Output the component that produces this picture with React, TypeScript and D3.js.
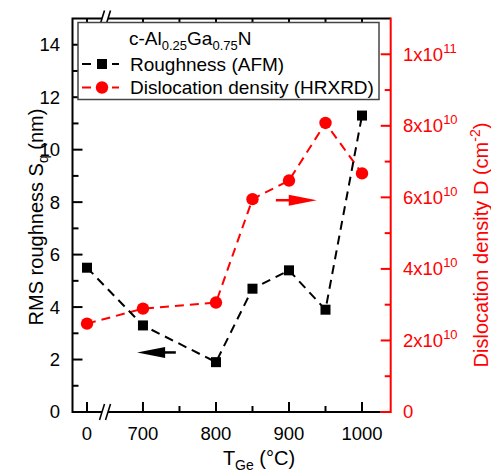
import React, { useEffect, useRef } from 'react';
import * as d3 from 'd3';

// growth temperature (0 = reference sample, shown left of the axis break)
const temps = [0, 700, 800, 850, 900, 950, 1000];
const roughness = [5.5, 3.3, 1.9, 4.7, 5.4, 3.9, 11.3];
const dislocation = [2.47e10, 2.89e10, 3.06e10, 5.95e10, 6.47e10, 8.08e10, 6.67e10];

const xMajor = [0, 700, 800, 900, 1000];
const xMinor = [750, 850, 950];
const yMajor = [0, 2, 4, 6, 8, 10, 12, 14];
const yMinor = [1, 3, 5, 7, 9, 11, 13];
const dMajor = [0, 2e10, 4e10, 6e10, 8e10, 1e11];
const dMinor = [1e10, 3e10, 5e10, 7e10, 9e10];

// arrows pointing to each series' axis
const roughArrow = { from: 745, to: 692, value: 2.27 };
const dislArrow = { from: 882, to: 938, value: 5.92e10 };

const FONT = '"Liberation Sans", Arial, sans-serif';
const RED = '#ff0000';

const App = () => {
  const ref = useRef<SVGSVGElement | null>(null);

  useEffect(() => {
    const node = ref.current;
    if (!node) return;
    node.innerHTML = '';

    const left = 72.5, right = 390.7, top = 18.5, bottom = 412;
    const brk = 105;

    const x = d3.scaleLinear()
      .domain([-19.9, 24.7, 648, 1039.3])
      .range([left, brk, brk, right]);
    const y = d3.scaleLinear().domain([0, 15]).range([bottom, top]);
    const yD = d3.scaleLinear().domain([0, 1.1e11]).range([bottom, top]);

    const svg = d3.select(node).style('font-family', FONT);

    // dashed lines
    const roughLine = d3.line<number>()
      .x((d, i) => x(temps[i]))
      .y(d => y(d));
    const dislLine = d3.line<number>()
      .x((d, i) => x(temps[i]))
      .y(d => yD(d));

    svg.append('path').attr('d', dislLine(dislocation))
      .attr('fill', 'none').attr('stroke', RED).attr('stroke-width', 2)
      .attr('stroke-dasharray', '9,6');
    svg.append('path').attr('d', roughLine(roughness))
      .attr('fill', 'none').attr('stroke', '#000').attr('stroke-width', 2)
      .attr('stroke-dasharray', '9,6');

    svg.selectAll('circle.pt').data(dislocation).enter().append('circle')
      .attr('cx', (d, i) => x(temps[i])).attr('cy', d => yD(d))
      .attr('r', 6.2).attr('fill', RED);
    svg.selectAll('rect.pt').data(roughness).enter().append('rect')
      .attr('x', (d, i) => x(temps[i]) - 5).attr('y', d => y(d) - 5)
      .attr('width', 10).attr('height', 10).attr('fill', '#000');

    // arrows
    const arrow = (x0: number, x1: number, yy: number, color: string) => {
      const dir = Math.sign(x1 - x0);
      const headLen = 28;
      svg.append('line')
        .attr('x1', x0).attr('x2', x1 - dir * headLen + dir * 2)
        .attr('y1', yy).attr('y2', yy)
        .attr('stroke', color).attr('stroke-width', 2.5);
      svg.append('path')
        .attr('d', `M${x1},${yy} L${x1 - dir * headLen},${yy - 5.5} L${x1 - dir * headLen},${yy + 5.5} Z`)
        .attr('fill', color);
    };
    arrow(x(roughArrow.from), x(roughArrow.to), y(roughArrow.value), '#000');
    arrow(x(dislArrow.from), x(dislArrow.to), yD(dislArrow.value), RED);

    // frame
    const frame = svg.append('g').attr('stroke', '#000').attr('stroke-width', 2).attr('fill', 'none');
    frame.append('path').attr('d', `M${right - 10},${bottom} H${left} V${top} H${right}`);

    // x ticks (inward, bottom and top)
    xMajor.forEach(v => {
      frame.append('line').attr('x1', x(v)).attr('x2', x(v)).attr('y1', bottom).attr('y2', bottom - 10);
      frame.append('line').attr('x1', x(v)).attr('x2', x(v)).attr('y1', top).attr('y2', top + 10);
    });
    xMinor.forEach(v => {
      frame.append('line').attr('x1', x(v)).attr('x2', x(v)).attr('y1', bottom).attr('y2', bottom - 6);
      frame.append('line').attr('x1', x(v)).attr('x2', x(v)).attr('y1', top).attr('y2', top + 6);
    });
    yMajor.forEach(v => {
      frame.append('line').attr('x1', left).attr('x2', left + 10).attr('y1', y(v)).attr('y2', y(v));
    });
    yMinor.forEach(v => {
      frame.append('line').attr('x1', left).attr('x2', left + 6).attr('y1', y(v)).attr('y2', y(v));
    });

    // right (red) axis
    const raxis = svg.append('g').attr('stroke', RED).attr('stroke-width', 2).attr('fill', 'none');
    raxis.append('path').attr('d', `M${right - 10},${bottom} H${right} V${top - 1}`);
    dMajor.forEach(v => {
      raxis.append('line').attr('x1', right).attr('x2', right - 10).attr('y1', yD(v)).attr('y2', yD(v));
    });
    dMinor.forEach(v => {
      raxis.append('line').attr('x1', right).attr('x2', right - 6).attr('y1', yD(v)).attr('y2', yD(v));
    });

    // axis breaks
    [bottom, top].forEach(yy => {
      svg.append('rect').attr('x', brk - 3).attr('y', yy - 2).attr('width', 6).attr('height', 4).attr('fill', '#fff');
      [-3, 3].forEach(off => {
        svg.append('line')
          .attr('x1', brk + off - 2.5).attr('y1', yy + 8)
          .attr('x2', brk + off + 2.5).attr('y2', yy - 8)
          .attr('stroke', '#000').attr('stroke-width', 1.6);
      });
    });

    // tick labels
    const fs = 18.5;
    yMajor.forEach(v => {
      svg.append('text').attr('x', 60).attr('y', y(v)).attr('dy', '0.35em')
        .attr('text-anchor', 'end').attr('font-size', fs).text(v);
    });
    xMajor.forEach(v => {
      svg.append('text').attr('x', x(v)).attr('y', 440)
        .attr('text-anchor', 'middle').attr('font-size', fs).text(v);
    });
    dMajor.forEach(v => {
      const t = svg.append('text').attr('x', 403).attr('y', yD(v)).attr('dy', '0.35em')
        .attr('font-size', fs).attr('fill', RED);
      if (v === 0) { t.text('0'); return; }
      const exp = Math.floor(Math.log10(v));
      const mant = Math.round(v / Math.pow(10, exp));
      t.append('tspan').text(`${mant}x10`);
      t.append('tspan').attr('dy', -8).attr('font-size', 13).text(exp);
    });

    // axis titles
    const lt = svg.append('text')
      .attr('transform', `translate(43, 217) rotate(-90)`)
      .attr('text-anchor', 'middle').attr('font-size', 20);
    lt.append('tspan').text('RMS roughness S');
    lt.append('tspan').attr('font-size', 14).attr('dy', 5).text('q');
    lt.append('tspan').attr('dy', -5).text(' (nm)');

    const rt = svg.append('text')
      .attr('transform', `translate(488, 245) rotate(-90)`)
      .attr('text-anchor', 'middle').attr('font-size', 20).attr('fill', RED);
    rt.append('tspan').text('Dislocation density D (cm');
    rt.append('tspan').attr('font-size', 14).attr('dy', -8).text('-2');
    rt.append('tspan').attr('dy', 8).text(')');

    const xt = svg.append('text').attr('x', 259).attr('y', 465)
      .attr('text-anchor', 'middle').attr('font-size', 20);
    xt.append('tspan').text('T');
    xt.append('tspan').attr('font-size', 14).attr('dy', 5).text('Ge');
    xt.append('tspan').attr('dy', -5).text(' (°C)');

    // legend
    const lg = svg.append('g');
    lg.append('rect').attr('x', 78).attr('y', 22.5).attr('width', 301).attr('height', 77)
      .attr('fill', '#fff').attr('stroke', '#444').attr('stroke-width', 1.5);
    const title = lg.append('text').attr('x', 129).attr('y', 45).attr('font-size', 19);
    title.append('tspan').text('c-Al');
    title.append('tspan').attr('font-size', 13).attr('dy', 5).text('0.25');
    title.append('tspan').attr('dy', -5).text('Ga');
    title.append('tspan').attr('font-size', 13).attr('dy', 5).text('0.75');
    title.append('tspan').attr('dy', -5).text('N');

    const rows = [
      { label: 'Roughness (AFM)', color: '#000', shape: 'square', cy: 64 },
      { label: 'Dislocation density (HRXRD)', color: RED, shape: 'circle', cy: 87.5 },
    ];
    rows.forEach(r => {
      lg.append('line').attr('x1', 80).attr('x2', 119).attr('y1', r.cy).attr('y2', r.cy)
        .attr('stroke', r.color).attr('stroke-width', 2).attr('stroke-dasharray', '9,6')
        .attr('stroke-dashoffset', -2);
      if (r.shape === 'square') {
        lg.append('rect').attr('x', 97).attr('y', r.cy - 5).attr('width', 10).attr('height', 10).attr('fill', r.color);
      } else {
        lg.append('circle').attr('cx', 102).attr('cy', r.cy).attr('r', 6.2).attr('fill', r.color);
      }
      lg.append('text').attr('x', 130).attr('y', r.cy).attr('dy', '0.35em')
        .attr('font-size', 19).text(r.label);
    });
  }, []);

  return (
    <svg ref={ref} width={491} height={475}
      style={{ position: 'absolute', left: 0, top: 0, background: '#fff' }} />
  );
};

export default App;
